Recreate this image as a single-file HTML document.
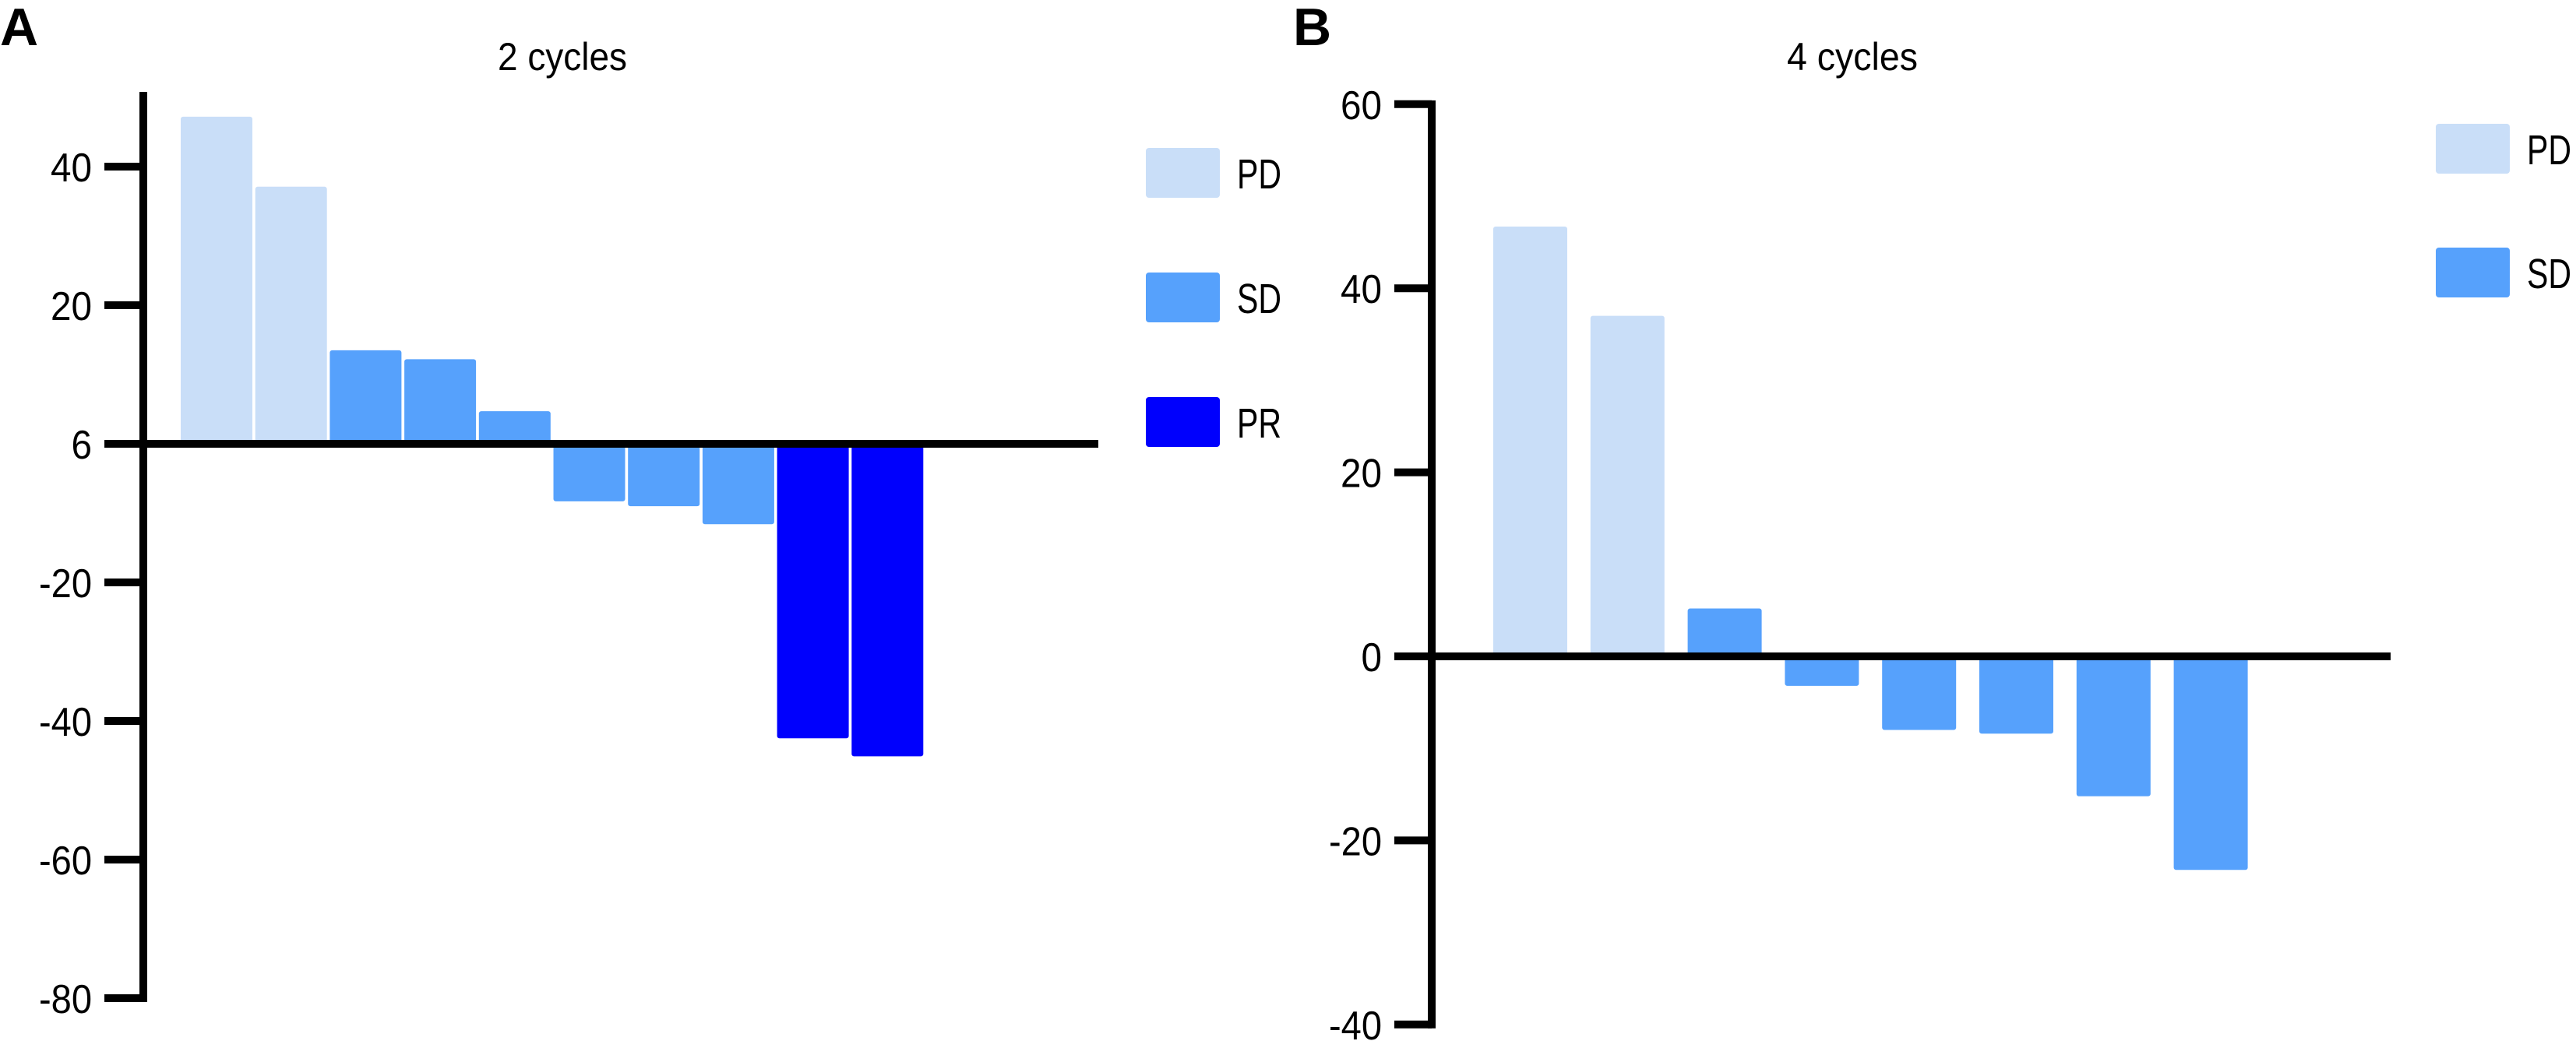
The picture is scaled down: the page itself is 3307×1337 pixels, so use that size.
<!DOCTYPE html>
<html><head><meta charset="utf-8"><style>
html,body{margin:0;padding:0;background:#fff;}
svg{display:block;font-family:"Liberation Sans",sans-serif;}
</style></head><body>
<svg id="chart" width="3307" height="1337" viewBox="0 0 3307 1337" xmlns="http://www.w3.org/2000/svg">
<text x="0" y="58" font-size="68" font-weight="bold">A</text>
<text x="1660" y="58" font-size="68" font-weight="bold">B</text>
<text x="722" y="90" font-size="50" text-anchor="middle" textLength="166" lengthAdjust="spacingAndGlyphs">2 cycles</text>
<text x="2378" y="90" font-size="50" text-anchor="middle" textLength="168" lengthAdjust="spacingAndGlyphs">4 cycles</text>
<g id="pa"></g>
<g id="pb"></g>
</svg>
<script>
const aValues = [47.2, 37.1, 13.5, 12.2, 4.7, -8.3, -9.0, -11.6, -42.5, -45.1];
const aGroups = ["PD","PD","SD","SD","SD","SD","SD","SD","PR","PR"];
const aTicks = [40, 20, 0, -20, -40, -60, -80];
const aTickLabels = ["40","20","6","-20","-40","-60","-80"];
const aLegend = ["PD","SD","PR"];
const bValues = [46.7, 37.0, 5.2, -3.2, -8.0, -8.4, -15.2, -23.2];
const bGroups = ["PD","PD","SD","SD","SD","SD","SD","SD"];
const bTicks = [60, 40, 20, 0, -20, -40];
const bTickLabels = ["60","40","20","0","-20","-40"];
const bLegend = ["PD","SD"];
const colors = {PD:"#c9def8", SD:"#56a1fc", PR:"#0000fd"};
const NS = "http://www.w3.org/2000/svg";
function mk(parent, tag, attrs){const e=document.createElementNS(NS,tag);for(const k in attrs)e.setAttribute(k,attrs[k]);parent.appendChild(e);return e;}

function draw(g, cfg, values, groups, ticks, labels, legend){
  const y = v => cfg.y0 - v*cfg.pxPer;
  const xb = i => cfg.bx0 + i*cfg.step;
  values.forEach((v,i)=>{
    const top = Math.min(y(v), y(0)), h = Math.abs(y(v)-y(0));
    const r = mk(g,'rect',{x:xb(i),y:top,width:cfg.bw,height:h,fill:colors[groups[i]],rx:3});
    
    
  });
  const ax = mk(g,'line',{x1:cfg.ax,x2:cfg.ax,y1:cfg.axTop,y2:y(ticks[ticks.length-1])+5,stroke:'#000','stroke-width':10});
  
  
  const zl = mk(g,'line',{x1:cfg.tickL,x2:cfg.zeroR,y1:y(0),y2:y(0),stroke:'#000','stroke-width':10});
  
  
  ticks.forEach((t,i)=>{
    const tl = mk(g,'line',{x1:cfg.tickL,x2:cfg.ax,y1:y(t),y2:y(t),stroke:'#000','stroke-width':10});
    
    
    const s = labels[i];
    const digits = s.replace('-','').length;
    const w = digits*26.5 + (s.startsWith('-')?15:0);
    const tx = mk(g,'text',{x:cfg.labR,y:y(t)+19,'font-size':52,'text-anchor':'end',textLength:w,lengthAdjust:'spacingAndGlyphs'});
    tx.textContent = s;
    
    
  });
  legend.forEach((k,i)=>{
    const ly = cfg.legY0 + i*cfg.legStep;
    const s = mk(g,'rect',{x:cfg.legX,y:ly,width:95,height:64,fill:colors[k],rx:4});
    
    
    const t = mk(g,'text',{x:cfg.legX+117,y:ly+52,'font-size':54,textLength:57,lengthAdjust:'spacingAndGlyphs'});
    t.textContent = k;
    
    
  });
}
draw(document.getElementById('pa'),
  {y0:570, pxPer:8.9, bx0:232, step:95.7, bw:92, ax:184, axTop:118, tickL:134, zeroR:1410, labR:118, legX:1471, legY0:190, legStep:160},
  aValues, aGroups, aTicks, aTickLabels, aLegend);
draw(document.getElementById('pb'),
  {y0:843, pxPer:11.82, bx0:1917, step:124.8, bw:95, ax:1838, axTop:129, tickL:1790, zeroR:3069, labR:1774, legX:3127, legY0:159, legStep:159},
  bValues, bGroups, bTicks, bTickLabels, bLegend);
</script>
</body></html>
